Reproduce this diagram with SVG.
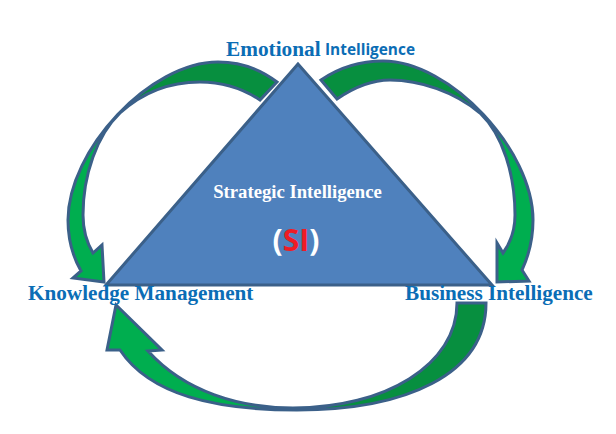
<svg xmlns="http://www.w3.org/2000/svg" width="616" height="434" viewBox="0 0 616 434">
<style>
.arrow{stroke:#3B6089;stroke-width:3;stroke-linejoin:miter}
.label{font-family:"Liberation Serif",serif;font-weight:700;fill:#0B6DB5}
</style>
<defs>
<linearGradient id="gl" gradientUnits="userSpaceOnUse" x1="113" y1="122" x2="93" y2="142"><stop offset="0.5" stop-color="#078F3F"/><stop offset="0.5" stop-color="#00AE4F"/></linearGradient>
<linearGradient id="gr" gradientUnits="userSpaceOnUse" x1="490" y1="120" x2="510" y2="140"><stop offset="0.5" stop-color="#078F3F"/><stop offset="0.5" stop-color="#00AE4F"/></linearGradient>
<linearGradient id="gb" gradientUnits="userSpaceOnUse" x1="310" y1="0" x2="260" y2="0"><stop offset="0.5" stop-color="#078F3F"/><stop offset="0.5" stop-color="#00AE4F"/></linearGradient>
</defs>
<rect width="616" height="434" fill="#fff"/>
<g id="connectors">
<path class="arrow" fill="url(#gl)" d="M277 82C260 69 240 62 218 62C150 62 68 150 68 220C68 240 73 257 81 271L73 278L104 282L102 245L93 253C87 243 83 230 83 215C83 175 97 135 120 113C143 92 170 82 200 82C222 82 242 88 260 100Z"/>
<path class="arrow" fill="url(#gr)" d="M321 80C340 67 360 61 383 61C450 61 533 150 533 220C533 238 529 255 522 270L529 281L497 282L497 243L503 253C511 242 515 230 515 215C515 175 503 135 480 113C455 92 420 80 390 80C372 80 353 88 337 99Z"/>
<path class="arrow" fill="url(#gb)" d="M486 303L457 303C457 365 385 408 293 408C240 408 185 392 148 351L162 350L116 305L107 350L120 350C150 395 215 410 297 410C405 410 486 375 486 303Z"/>
</g>
<g id="triangle">
<path d="M298 64L106 285L492 285Z" fill="#4F81BD" stroke="#3B6089" stroke-width="3"/>
<text x="297.500" y="198" text-anchor="middle" font-family="Liberation Serif,serif" font-weight="700" font-size="18.700" fill="#fff">Strategic Intelligence</text>
<text x="296" y="251" text-anchor="middle" font-family="Open Sans,sans-serif" font-weight="700" font-size="30" fill="#fff">(<tspan fill="#EE1C25">SI</tspan>)</text>
</g>
<g id="emotional">
<text class="label" x="226" y="56" font-size="21.300">Emotional</text>
<text x="325" y="55" font-family="Open Sans,sans-serif" font-weight="700" font-size="15.400" fill="#0B6DB5">Intelligence</text>
</g>
<g id="knowledge"><text class="label" x="28" y="300" font-size="21.200">Knowledge Management</text></g>
<g id="business"><text class="label" x="405" y="300" font-size="21.200">Business Intelligence</text></g>
</svg>
